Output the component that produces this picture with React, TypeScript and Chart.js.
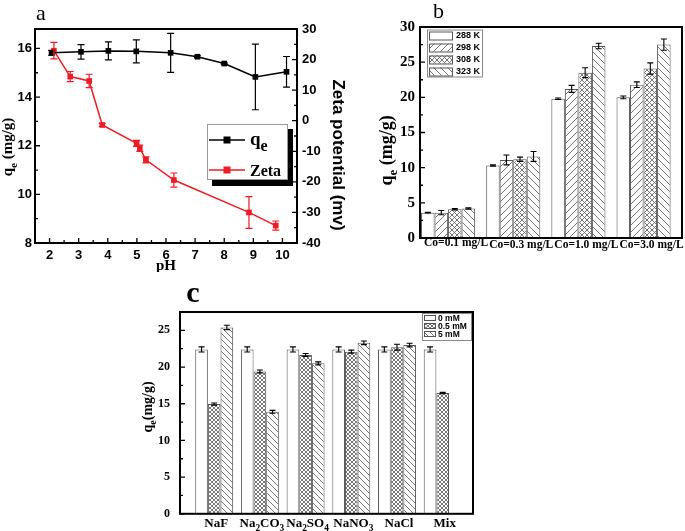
import React, { useEffect, useRef } from 'react';
import { Chart, registerables } from 'chart.js';
Chart.register(...registerables);

// ---------- Panel a data ----------
const phQe = [2.07, 3.08, 4.02, 4.98, 6.16, 7.08, 8.0, 9.07, 10.14];
const qeValues = [15.82, 15.86, 15.9, 15.88, 15.82, 15.66, 15.38, 14.83, 15.04];
const qeErrors = [0.1, 0.3, 0.37, 0.47, 0.8, 0.04, 0.03, 1.35, 0.63];
const phZeta = [2.15, 2.71, 3.36, 3.81, 4.99, 5.1, 5.31, 6.27, 8.85, 9.77];
const zetaValues = [22.9, 14.45, 13.0, -1.4, -7.4, -9.0, -12.8, -19.4, -30.0, -34.3];
const zetaErrors = [2.7, 1.65, 2.2, 0.5, 1.0, 1.0, 1.0, 2.3, 5.2, 1.5];
const phTicks = [2, 3, 4, 5, 6, 7, 8, 9, 10];
const phMinor = [2.5, 3.5, 4.5, 5.5, 6.5, 7.5, 8.5, 9.5];
const qeTicks = [8, 10, 12, 14, 16];
const qeMinor = [9, 11, 13, 15];
const zetaTicks = [-40, -30, -20, -10, 0, 10, 20, 30];
const zetaMinor = [-35, -25, -15, -5, 5, 15, 25];

// ---------- Panel b data ----------
const coLabels = ['Co=0.1 mg/L', 'Co=0.3 mg/L', 'Co=1.0 mg/L', 'Co=3.0 mg/L'];
const tempLabels = ['288 K', '298 K', '308 K', '323 K'];
const q288 = [3.6, 10.3, 19.8, 20.0];
const q298 = [3.6, 11.1, 21.2, 21.8];
const q308 = [4.1, 11.2, 23.5, 24.1];
const q323 = [4.2, 11.6, 27.3, 27.5];
const e288 = [0.05, 0.1, 0.1, 0.2];
const e298 = [0.3, 0.7, 0.5, 0.4];
const e308 = [0.1, 0.3, 0.7, 0.8];
const e323 = [0.1, 0.7, 0.4, 0.8];
const bTicks = [0, 5, 10, 15, 20, 25, 30];
const bMinor = [2.5, 7.5, 12.5, 17.5, 22.5, 27.5];

// ---------- Panel c data ----------
const saltLabels = ['NaF', 'Na_2CO_3', 'Na_2SO_4', 'NaNO_3', 'NaCl', 'Mix'];
const concLabels = ['0 mM', '0.5 mM', '5 mM'];
const c0 = [22.4, 22.4, 22.4, 22.4, 22.4, 22.4];
const c05 = [14.95, 19.4, 21.65, 22.1, 22.7, 16.45];
const c5 = [25.4, 13.9, 20.5, 23.3, 23.0, null];
const ec0 = [0.35, 0.35, 0.35, 0.35, 0.35, 0.35];
const ec05 = [0.15, 0.2, 0.2, 0.2, 0.4, 0.1];
const ec5 = [0.3, 0.2, 0.2, 0.25, 0.25, null];
const cTicks = [0, 5, 10, 15, 20, 25];
const cMinor = [2.5, 7.5, 12.5, 17.5, 22.5];

const SERIF = '"Liberation Serif", "Times New Roman", serif';
const SANS = '"Liberation Sans", Arial, sans-serif';
const RED = '#ee1c24';

function drawRich(ctx: CanvasRenderingContext2D, text: string, x: number, y: number, size: number, family: string, weight: string, align: string = 'center', subScale = 0.72, subDrop = 0.3) {
  const segs: { t: string; sub: boolean; w: number }[] = [];
  let buf = '';
  for (let i = 0; i < text.length; i++) {
    if (text[i] === '_' && i + 1 < text.length) {
      if (buf) segs.push({ t: buf, sub: false, w: 0 });
      buf = '';
      segs.push({ t: text[i + 1], sub: true, w: 0 });
      i++;
    } else buf += text[i];
  }
  if (buf) segs.push({ t: buf, sub: false, w: 0 });
  const font = (sub: boolean) => `${weight} ${sub ? size * subScale : size}px ${family}`;
  let total = 0;
  for (const s of segs) { ctx.font = font(s.sub); s.w = ctx.measureText(s.t).width; total += s.w; }
  let cx = align === 'center' ? x - total / 2 : align === 'left' ? x : x - total;
  ctx.textAlign = 'left';
  ctx.textBaseline = 'alphabetic';
  for (const s of segs) {
    ctx.font = font(s.sub);
    ctx.fillText(s.t, cx, y + (s.sub ? size * subDrop : 0));
    cx += s.w;
  }
}

function rotated(ctx: CanvasRenderingContext2D, cx: number, cy: number, angle: number, fn: () => void) {
  ctx.save();
  ctx.translate(cx, cy);
  ctx.rotate(angle);
  fn();
  ctx.restore();
}

function drawErr(ctx: CanvasRenderingContext2D, x: number, y1: number, y2: number, cap: number, color: string, lw: number) {
  ctx.save();
  ctx.strokeStyle = color;
  ctx.lineWidth = lw;
  ctx.beginPath();
  ctx.moveTo(x, y1); ctx.lineTo(x, y2);
  ctx.moveTo(x - cap / 2, y1); ctx.lineTo(x + cap / 2, y1);
  ctx.moveTo(x - cap / 2, y2); ctx.lineTo(x + cap / 2, y2);
  ctx.stroke();
  ctx.restore();
}

function drawFrame(ctx: CanvasRenderingContext2D, a: any, lw: number) {
  ctx.save();
  ctx.strokeStyle = '#000';
  ctx.lineWidth = lw;
  ctx.strokeRect(a.left, a.top, a.right - a.left, a.bottom - a.top);
  ctx.restore();
}

function yTicks(ctx: CanvasRenderingContext2D, scale: any, a: any, vals: number[], len: number, side: string) {
  ctx.save();
  ctx.strokeStyle = '#000';
  ctx.lineWidth = 1.3;
  ctx.beginPath();
  for (const v of vals) {
    const y = scale.getPixelForValue(v);
    if (side === 'left') { ctx.moveTo(a.left, y); ctx.lineTo(a.left + len, y); }
    else { ctx.moveTo(a.right, y); ctx.lineTo(a.right - len, y); }
  }
  ctx.stroke();
  ctx.restore();
}

function xTicks(ctx: CanvasRenderingContext2D, scale: any, a: any, vals: number[], len: number) {
  ctx.save();
  ctx.strokeStyle = '#000';
  ctx.lineWidth = 1.3;
  ctx.beginPath();
  for (const v of vals) {
    const x = scale.getPixelForValue(v);
    ctx.moveTo(x, a.bottom); ctx.lineTo(x, a.bottom - len);
  }
  ctx.stroke();
  ctx.restore();
}

function makePattern(ctx: CanvasRenderingContext2D, kind: string, s: number, color: string) {
  const c = document.createElement('canvas');
  c.width = s; c.height = s;
  const g = c.getContext('2d')!;
  g.fillStyle = '#fff';
  g.fillRect(0, 0, s, s);
  if (kind !== 'none') {
    g.strokeStyle = color;
    g.lineWidth = 0.9;
    g.beginPath();
    if (kind === 'slash' || kind === 'cross') {
      g.moveTo(0, s); g.lineTo(s, 0);
      g.moveTo(-s / 2, s / 2); g.lineTo(s / 2, -s / 2);
      g.moveTo(s / 2, s * 1.5); g.lineTo(s * 1.5, s / 2);
    }
    if (kind === 'back' || kind === 'cross') {
      g.moveTo(0, 0); g.lineTo(s, s);
      g.moveTo(-s / 2, s / 2); g.lineTo(s / 2, s * 1.5);
      g.moveTo(s / 2, -s / 2); g.lineTo(s * 1.5, s / 2);
    }
    g.stroke();
  }
  return ctx.createPattern(c, 'repeat') as CanvasPattern;
}

function fixedTicks(vals: number[]) {
  return (s: any) => { s.ticks = vals.map((v) => ({ value: v })); };
}

const hiddenGrid = { display: false, drawTicks: false, offset: false };
const noBorder = { display: false };

export default function App() {
  const refA = useRef<HTMLCanvasElement>(null);
  const refB = useRef<HTMLCanvasElement>(null);
  const refC = useRef<HTMLCanvasElement>(null);

  useEffect(() => {
    const charts: Chart[] = [];

    // ---------------- Panel a ----------------
    const ctxA = refA.current!.getContext('2d')!;
    const plugA = {
      id: 'panelA',
      afterDatasetsDraw(chart: any) {
        const ctx = chart.ctx;
        const x = chart.scales.x, y = chart.scales.y, y1 = chart.scales.y1;
        phQe.forEach((p, i) => drawErr(ctx, x.getPixelForValue(p), y.getPixelForValue(qeValues[i] + qeErrors[i]), y.getPixelForValue(qeValues[i] - qeErrors[i]), 7, '#000', 1.2));
        phZeta.forEach((p, i) => drawErr(ctx, x.getPixelForValue(p), y1.getPixelForValue(zetaValues[i] + zetaErrors[i]), y1.getPixelForValue(zetaValues[i] - zetaErrors[i]), 7, RED, 1.2));
      },
      afterDraw(chart: any) {
        const ctx = chart.ctx;
        const a = chart.chartArea;
        drawFrame(ctx, a, 2);
        yTicks(ctx, chart.scales.y, a, qeTicks, 5, 'left');
        yTicks(ctx, chart.scales.y, a, qeMinor, 3, 'left');
        yTicks(ctx, chart.scales.y1, a, zetaTicks, 5, 'right');
        yTicks(ctx, chart.scales.y1, a, zetaMinor, 3, 'right');
        xTicks(ctx, chart.scales.x, a, phTicks, 5);
        xTicks(ctx, chart.scales.x, a, phMinor, 3);
        ctx.fillStyle = '#000';
        rotated(ctx, 12, (a.top + a.bottom) / 2 + 11, -Math.PI / 2, () => drawRich(ctx, 'q_e (mg/g)', 0, 0, 15, SERIF, 'bold', 'center', 0.75, 0.3));
        rotated(ctx, 333, (a.top + a.bottom) / 2 + 19, Math.PI / 2, () => {
          ctx.font = `bold 17px ${SANS}`;
          ctx.textAlign = 'center';
          ctx.textBaseline = 'alphabetic';
          ctx.fillText('Zeta potential (mv)', 0, 0);
        });
        drawRich(ctx, 'pH', (a.left + a.right) / 2, 270, 15, SERIF, 'bold', 'center');
        ctx.font = `22px ${SERIF}`;
        ctx.textAlign = 'left';
        ctx.fillText('a', 36, 20);
        // legend
        ctx.save();
        ctx.fillStyle = '#000';
        ctx.fillRect(212, 129, 81, 57);
        ctx.fillStyle = '#fff';
        ctx.fillRect(207, 124, 81, 56);
        ctx.strokeStyle = '#999';
        ctx.lineWidth = 1;
        ctx.strokeRect(207.5, 124.5, 80, 55);
        const rows = [{ c: '#000', y: 140 }, { c: RED, y: 170 }];
        rows.forEach((r) => {
          ctx.strokeStyle = r.c;
          ctx.lineWidth = 1.5;
          ctx.beginPath(); ctx.moveTo(209, r.y); ctx.lineTo(245, r.y); ctx.stroke();
          ctx.fillStyle = r.c;
          ctx.fillRect(223.5, r.y - 3.5, 7, 7);
        });
        ctx.fillStyle = '#000';
        drawRich(ctx, 'q_e', 250, 145, 19, SERIF, 'bold', 'left', 0.85, 0.3);
        drawRich(ctx, 'Zeta', 250, 176, 16, SERIF, 'bold', 'left');
        ctx.restore();
      },
    };
    charts.push(new Chart(ctxA, {
      type: 'line',
      data: {
        datasets: [
          { label: 'qe', data: phQe.map((p, i) => ({ x: p, y: qeValues[i] })), borderColor: '#000', backgroundColor: '#000', borderWidth: 1.5, pointStyle: 'rect', pointRadius: 4, pointBorderWidth: 0, yAxisID: 'y' },
          { label: 'Zeta', data: phZeta.map((p, i) => ({ x: p, y: zetaValues[i] })), borderColor: RED, backgroundColor: RED, borderWidth: 1.5, pointStyle: 'rect', pointRadius: 4, pointBorderWidth: 0, yAxisID: 'y1' },
        ],
      },
      options: {
        animation: false,
        responsive: false,
        layout: { padding: { top: 29, left: 0, right: 0, bottom: 0 } },
        plugins: { legend: { display: false }, tooltip: { enabled: false } },
        scales: {
          x: { type: 'linear', offset: false, min: 1.5, max: 10.5, afterBuildTicks: fixedTicks(phTicks), afterFit: (s: any) => { s.height = 29; }, grid: hiddenGrid, border: noBorder, ticks: { color: '#000', font: { family: SANS, weight: 'bold', size: 13 }, padding: 5, maxRotation: 0, autoSkip: false } },
          y: { position: 'left', min: 8, max: 16.8, afterBuildTicks: fixedTicks(qeTicks), afterFit: (s: any) => { s.width = 35; }, grid: hiddenGrid, border: noBorder, ticks: { color: '#000', font: { family: SANS, weight: 'bold', size: 13 }, padding: 3 } },
          y1: { position: 'right', min: -40, max: 30, afterBuildTicks: fixedTicks(zetaTicks), afterFit: (s: any) => { s.width = 55; }, grid: hiddenGrid, border: noBorder, ticks: { color: '#000', font: { family: SANS, weight: 'bold', size: 13 }, padding: 5 } },
        },
      } as any,
      plugins: [plugA],
    }));

    // ---------------- Panel b ----------------
    const ctxB = refB.current!.getContext('2d')!;
    const patB = [
      makePattern(ctxB, 'none', 6, '#666'),
      makePattern(ctxB, 'slash', 7, '#666'),
      makePattern(ctxB, 'cross', 5, '#666'),
      makePattern(ctxB, 'back', 7, '#666'),
    ];
    const bSeries = [q288, q298, q308, q323];
    const bErr = [e288, e298, e308, e323];
    const plugB = {
      id: 'panelB',
      afterDatasetsDraw(chart: any) {
        const ctx = chart.ctx;
        const ys = chart.scales.y;
        bSeries.forEach((vals, k) => {
          const meta = chart.getDatasetMeta(k);
          meta.data.forEach((el: any, i: number) => {
            const v = vals[i], e = bErr[k][i];
            if (v == null || e == null || !isFinite(el.x)) return;
            drawErr(ctx, el.x, ys.getPixelForValue(v + e), ys.getPixelForValue(v - e), 6, '#000', 1.1);
          });
        });
      },
      afterDraw(chart: any) {
        const ctx = chart.ctx;
        const a = chart.chartArea;
        drawFrame(ctx, a, 2);
        yTicks(ctx, chart.scales.y, a, bTicks, 5, 'left');
        yTicks(ctx, chart.scales.y, a, bMinor, 3, 'left');
        ctx.fillStyle = '#000';
        const xs = chart.scales.x;
        coLabels.forEach((lab, i) => {
          ctx.font = `bold 11.5px ${SERIF}`;
          ctx.textAlign = 'center';
          ctx.textBaseline = 'alphabetic';
          ctx.fillText(lab, xs.getPixelForValue(i + 1) + 8, i === 0 ? 246 : 248);
        });
        rotated(ctx, 40, (a.top + a.bottom) / 2 + 18, -Math.PI / 2, () => drawRich(ctx, 'q_e (mg/g)', 0, 0, 18, SERIF, 'bold', 'center', 0.72, 0.3));
        ctx.font = `22px ${SERIF}`;
        ctx.textAlign = 'left';
        ctx.fillText('b', 81, 18);
        // legend
        const lx = a.left + 7, ly = a.top + 2.5;
        ctx.save();
        ctx.fillStyle = '#fff';
        ctx.fillRect(lx, ly, 55, 47);
        ctx.strokeStyle = '#888';
        ctx.lineWidth = 1;
        ctx.strokeRect(lx + 0.5, ly + 0.5, 55, 47);
        tempLabels.forEach((lab, k) => {
          const cy = ly + 6 + k * 12;
          ctx.fillStyle = patB[k];
          ctx.fillRect(lx + 2, cy - 4, 24, 8);
          ctx.strokeStyle = '#555';
          ctx.strokeRect(lx + 2.5, cy - 3.5, 23, 8);
          ctx.fillStyle = '#000';
          ctx.font = `bold 9px ${SANS}`;
          ctx.textAlign = 'left';
          ctx.textBaseline = 'middle';
          ctx.fillText(lab, lx + 29, cy + 0.5);
        });
        ctx.restore();
      },
    };
    charts.push(new Chart(ctxB, {
      type: 'bar',
      data: {
        datasets: tempLabels.map((lab, k) => ({
          label: lab,
          data: bSeries[k].map((v, i) => ({ x: i + 1, y: v })),
          backgroundColor: patB[k],
          borderColor: '#555',
          borderWidth: 1,
          categoryPercentage: 0.83,
          barPercentage: 1,
        })),
      },
      options: {
        animation: false,
        responsive: false,
        layout: { padding: { top: 27, left: 0, right: 3, bottom: 0 } },
        plugins: { legend: { display: false }, tooltip: { enabled: false } },
        scales: {
          x: { type: 'linear', offset: false, min: 0.569, max: 4.59, afterBuildTicks: fixedTicks([1, 2, 3, 4]), afterFit: (s: any) => { s.height = 24; }, grid: hiddenGrid, border: noBorder, ticks: { display: false } },
          y: { min: 0, max: 30, afterBuildTicks: fixedTicks(bTicks), afterFit: (s: any) => { s.width = 68; }, grid: hiddenGrid, border: noBorder, ticks: { color: '#000', font: { family: SERIF, weight: 'bold', size: 15 }, padding: 5 } },
        },
      } as any,
      plugins: [plugB],
    }));

    // ---------------- Panel c ----------------
    const ctxC = refC.current!.getContext('2d')!;
    const patC = [
      makePattern(ctxC, 'none', 6, '#666'),
      makePattern(ctxC, 'cross', 4, '#666'),
      makePattern(ctxC, 'back', 6, '#666'),
    ];
    const cSeries = [c0, c05, c5];
    const cErr = [ec0, ec05, ec5];
    const plugC = {
      id: 'panelC',
      afterDatasetsDraw(chart: any) {
        const ctx = chart.ctx;
        const ys = chart.scales.y;
        cSeries.forEach((vals, k) => {
          const meta = chart.getDatasetMeta(k);
          meta.data.forEach((el: any, i: number) => {
            const v = vals[i], e = cErr[k][i];
            if (v == null || e == null || !isFinite(el.x)) return;
            drawErr(ctx, el.x, ys.getPixelForValue(v + e), ys.getPixelForValue(v - e), 6, '#000', 1.1);
          });
        });
      },
      afterDraw(chart: any) {
        const ctx = chart.ctx;
        const a = chart.chartArea;
        drawFrame(ctx, a, 2);
        yTicks(ctx, chart.scales.y, a, cTicks, 5, 'left');
        yTicks(ctx, chart.scales.y, a, cMinor, 3, 'left');
        ctx.fillStyle = '#000';
        const xs = chart.scales.x;
        saltLabels.forEach((lab, i) => {
          drawRich(ctx, lab, xs.getPixelForValue(i + 1) + 2, 265, 13, SERIF, 'bold', 'center', 0.72, 0.28);
        });
        rotated(ctx, 31.5, (a.top + a.bottom) / 2 - 6, -Math.PI / 2, () => drawRich(ctx, 'q_e(mg/g)', 0, 0, 14, SERIF, 'bold', 'center', 0.72, 0.3));
        ctx.font = `bold 30px ${SERIF}`;
        ctx.textAlign = 'center';
        ctx.textBaseline = 'alphabetic';
        ctx.fillText('c', 73, 40);
        // legend
        const lw = 49, lh = 27;
        const lx = a.right - 2 - lw, ly = a.top + 1;
        ctx.save();
        ctx.fillStyle = '#fff';
        ctx.fillRect(lx, ly, lw, lh);
        ctx.strokeStyle = '#888';
        ctx.lineWidth = 1;
        ctx.strokeRect(lx + 0.5, ly + 0.5, lw, lh);
        concLabels.forEach((lab, k) => {
          const cy = ly + 5 + k * 8;
          ctx.fillStyle = patC[k];
          ctx.fillRect(lx + 2, cy - 2, 11, 4);
          ctx.strokeStyle = '#555';
          ctx.strokeRect(lx + 2.5, cy - 2.5, 11, 5);
          ctx.fillStyle = '#000';
          ctx.font = `bold 8.5px ${SANS}`;
          ctx.textAlign = 'left';
          ctx.textBaseline = 'middle';
          ctx.fillText(lab, lx + 16, cy + 0.5);
        });
        ctx.restore();
      },
    };
    charts.push(new Chart(ctxC, {
      type: 'bar',
      data: {
        datasets: concLabels.map((lab, k) => ({
          label: lab,
          data: cSeries[k].map((v, i) => ({ x: i + 1, y: v })),
          backgroundColor: patC[k],
          borderColor: '#555',
          borderWidth: 1,
          categoryPercentage: 0.83,
          barPercentage: 1,
        })),
      },
      options: {
        animation: false,
        responsive: false,
        layout: { padding: { top: 50, left: 0, right: 67, bottom: 0 } },
        plugins: { legend: { display: false }, tooltip: { enabled: false } },
        scales: {
          x: { type: 'linear', offset: false, min: 0.252, max: 6.663, afterBuildTicks: fixedTicks([1, 2, 3, 4, 5, 6]), afterFit: (s: any) => { s.height = 16; }, grid: hiddenGrid, border: noBorder, ticks: { display: false } },
          y: { min: 0, max: 27.5, afterBuildTicks: fixedTicks(cTicks), afterFit: (s: any) => { s.width = 60; }, grid: hiddenGrid, border: noBorder, ticks: { color: '#000', font: { family: SERIF, weight: 'bold', size: 12 }, padding: 10 } },
        },
      } as any,
      plugins: [plugC],
    }));

    return () => { charts.forEach((c) => c.destroy()); };
  }, []);

  return (
    <div style={{ position: 'absolute', left: 0, top: 0, width: 685, height: 531, background: '#fff', overflow: 'hidden' }}>
      <canvas ref={refA} width={352} height={272} style={{ position: 'absolute', left: 0, top: 0, width: 352, height: 272 }} />
      <canvas ref={refB} width={333} height={262} style={{ position: 'absolute', left: 352, top: 0, width: 333, height: 262 }} />
      <canvas ref={refC} width={420} height={269} style={{ position: 'absolute', left: 120, top: 262, width: 420, height: 269 }} />
    </div>
  );
}
